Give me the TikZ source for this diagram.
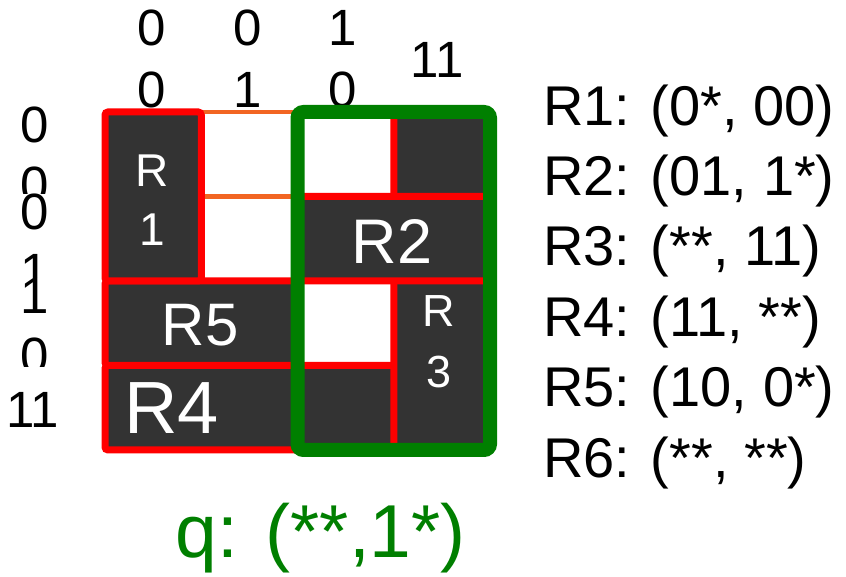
\documentclass[tikz,border=0pt]{standalone}
\usepackage{fontspec}
\setmainfont{Liberation Sans}

\definecolor{cellgray}{HTML}{333333}
\definecolor{boxred}{HTML}{FF0000}
\definecolor{querygreen}{HTML}{007F00}
\definecolor{gridorange}{RGB}{242,101,34}

\tikzset{
  cellgrid/.style={draw=gridorange, line width=4.5pt, xstep=96.25pt, ystep=84.5pt},
  region/.style={draw=boxred, fill=cellgray, line width=7pt, rounded corners=3pt},
  query/.style={draw=querygreen, line width=14pt, rounded corners=6pt},
  colbits/.style={inner sep=0pt, align=center, font=\fontsize{51}{62}\selectfont},
  rowbits/.style={fill=white, inner sep=0pt, align=center, font=\fontsize{51}{60}\selectfont},
  rname/.style={text=white, inner sep=0pt, align=center},
  listitem/.style={anchor=base west, inner sep=0pt, font=\fontsize{56}{60}\selectfont}
}

\begin{document}
\begin{tikzpicture}[x=96.25pt,y=84.5pt]
    \useasboundingbox (-105pt,-127pt) rectangle (741pt,450pt);

    % bit strings over the columns
    \node[colbits] (c1) at (0.49,4.63) {0\\0};
    \node[colbits] (c2) at (1.48,4.63) {0\\1};
    \node[colbits] (c3) at (2.47,4.63) {1\\0};
    \node[colbits] (c4) at (3.45,4.62) {11};

    % bit strings next to the rows (each one hides the end of the one above)
    \node[rowbits] (b1) at (-0.73,3.49) {0\\0};
    \node[rowbits] (b2) at (-0.73,2.46) {0\\1};
    \node[rowbits] (b3) at (-0.73,1.47) {1\\0};
    \node[rowbits, minimum height=86pt] (b4) at (-0.75,0.47) {11};

    % empty cells
    \draw[cellgrid] (0,0) grid (4,4);

    % regions
    \draw[region] (0,0) rectangle (4,1); % R4
    \draw[region] (0,1) rectangle (2,2); % R5
    \draw[region] (0,2) rectangle (1,4); % R1
    \draw[region] (3,0) rectangle (4,4); % R3
    \draw[region] (2,2) rectangle (4,3); % R2

    % query
    \draw[query] (2,0) rectangle (4,4);

    \node[rname, font=\fontsize{46}{59}\selectfont] (n1) at (0.49,2.96) {R\\1};
    \node[rname, font=\fontsize{63}{66}\selectfont] (n2) at (2.98,2.47) {R2};
    \node[rname, font=\fontsize{45}{61}\selectfont] (n3) at (3.47,1.28) {R\\3};
    \node[rname, font=\fontsize{74}{78}\selectfont] (n4) at (0.69,0.50) {R4};
    \node[rname, font=\fontsize{60}{64}\selectfont] (n5) at (0.99,1.48) {R5};

    \node[anchor=base, inner sep=0pt, text=querygreen, font=\fontsize{75}{80}\selectfont] (q) at (2.24,-1.278) {q: (**,1*)};

    % list of regions
    \foreach \i/\cells in {1/{(0*, 00)}, 2/{(01, 1*)}, 3/{(**, 11)}, 4/{(11, **)}, 5/{(10, 0*)}, 6/{(**, **)}}
        \node[listitem] (l\i) at (4.55,{3.846-0.834*(\i-1)}) {R\i: \cells};
\end{tikzpicture}
\end{document}
